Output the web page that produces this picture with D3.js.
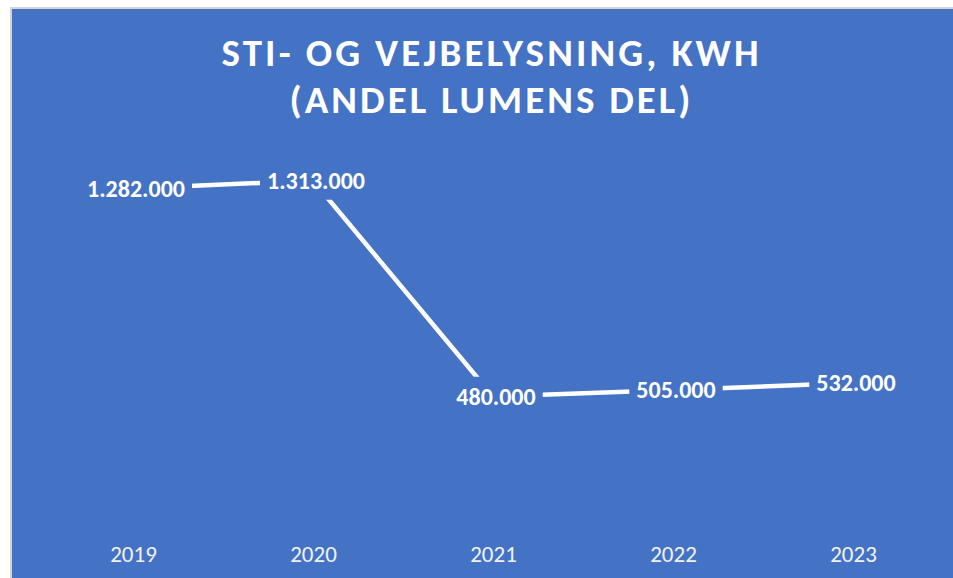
<!DOCTYPE html>
<html>
<head>
<meta charset="utf-8">
<script src="https://cdn.jsdelivr.net/npm/d3@7"></script>
<style>
  html, body { margin: 0; padding: 0; background: #fff; }
  .chart-font { font-family: Carlito, Calibri, Lato, "Open Sans", sans-serif; }
</style>
</head>
<body>
<div id="chart"></div>
<script>
const years = ["2019", "2020", "2021", "2022", "2023"];
const kwh = [1282000, 1313000, 480000, 505000, 532000];
const titleLines = ["STI- OG VEJBELYSNING, KWH", "(ANDEL LUMENS DEL)"];

const drawChart = () => {
    const W = 953, H = 578;
    const bg = "#4472C4";

    const svg = d3.select("#chart")
        .append("svg")
        .attr("class", "chart-font")
        .attr("width", W)
        .attr("height", H);

    // chart frame (cut off at right/bottom like the screenshot)
    svg.append("rect")
        .attr("x", 10).attr("y", 7)
        .attr("width", W).attr("height", H)
        .attr("fill", "#d4d4d4");
    svg.append("rect")
        .attr("x", 12).attr("y", 9)
        .attr("width", W).attr("height", H)
        .attr("fill", bg);

    // Title, stretched to the width of the original letter spacing
    const titleWidths = [537, 401];
    const titleBase = [66, 113];
    svg.selectAll("text.title")
        .data(titleLines)
        .join("text")
        .attr("class", "title")
        .attr("x", 490)
        .attr("y", (d, i) => titleBase[i])
        .attr("text-anchor", "middle")
        .attr("fill", "#fff")
        .attr("font-weight", "bold")
        .attr("font-size", "39px")
        .attr("textLength", (d, i) => titleWidths[i])
        .attr("lengthAdjust", "spacing")
        .text(d => d);

    // Scales
    const x = d3.scalePoint().domain(years).range([133, 853]);
    const y = d3.scaleLinear().domain([0, 1400000]).range([521, 158]);

    // X axis labels only
    const xAxis = d3.axisBottom(x).tickSize(0).tickPadding(25);
    const xg = svg.append("g")
        .attr("transform", `translate(0,${y(0)})`)
        .call(xAxis);
    xg.select(".domain").remove();
    xg.selectAll("text")
        .attr("fill", "#f2f2f2")
        .attr("font-size", "23px")
        .attr("font-family", "Carlito, Calibri, Lato, sans-serif");

    const data = years.map((d, i) => ({ year: d, value: kwh[i] }));

    // Line
    const line = d3.line()
        .x(d => x(d.year))
        .y(d => y(d.value));

    svg.append("path")
        .datum(data)
        .attr("fill", "none")
        .attr("stroke", "#fff")
        .attr("stroke-width", 4.5)
        .attr("d", line);

    // Data labels with background boxes hiding the line
    const fmt = v => d3.format(",")(v).replace(/,/g, ".");
    const labels = svg.append("g");
    const lab = labels.selectAll("g")
        .data(data)
        .join("g")
        .attr("transform", d => `translate(${x(d.year) + 3},${y(d.value) + 1})`);

    const boxes = lab.append("rect").attr("fill", bg);
    const texts = lab.append("text")
        .attr("text-anchor", "middle")
        .attr("dy", "0.3em")
        .attr("fill", "#fff")
        .attr("font-weight", "bold")
        .attr("font-size", "24px")
        .text(d => fmt(d.value));

    texts.each(function (d, i) {
        const bb = this.getBBox();
        d3.select(boxes.nodes()[i])
            .attr("x", bb.x - 7)
            .attr("y", bb.y - 5)
            .attr("width", bb.width + 14)
            .attr("height", bb.height + 10);
    });
};

document.addEventListener("DOMContentLoaded", function () {
    drawChart();
});
</script>
</body>
</html>
